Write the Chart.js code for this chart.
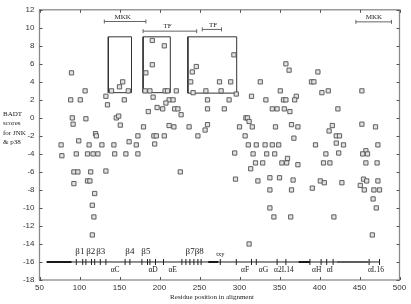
<!DOCTYPE html>
<html>
<head>
<meta charset="utf-8">
<script src="https://cdn.jsdelivr.net/npm/chart.js@4.4.0/dist/chart.umd.min.js"></script>
<style>
  html, body { margin: 0; padding: 0; background: #fff; }
  #wrap { width: 411px; height: 304px; }
</style>
</head>
<body>
<div id="wrap"><canvas id="badtChart" width="411" height="304"></canvas></div>
<script>
// residue position in alignment (x) and BADT score (y) for each square
const residuePos = [
    90, 89, 101, 107, 133, 135, 140, 150, 154, 156, 161,
    191, 206, 191, 183, 182, 188, 207, 210, 221, 192, 212, 217, 208, 197, 204, 219, 223, 186,
    246, 241, 239, 275, 289, 293, 326, 242, 258, 277, 296, 315, 333, 260, 287, 260, 281,
    358, 362, 398, 390, 393, 351, 403, 411, 453, 355, 358, 371, 369, 341, 347, 356, 363, 423,
    91, 92, 108, 146, 149, 151, 120, 121, 173, 99, 162, 77, 112, 128, 143, 171, 78, 96, 110, 117, 123, 144, 158, 173, 93, 98, 114, 133, 93, 110, 113, 119, 116,
    227, 180, 212, 218, 237, 260, 257, 193, 196, 206, 248, 308, 310, 312, 300, 316, 307, 194, 311, 321, 332, 294, 317, 334, 320, 329, 314, 226, 295, 323, 338, 338, 338,
    345, 365, 373, 416, 412, 421, 425, 453, 470, 368, 341, 349, 395, 421, 430, 473, 344, 360, 353, 359, 373, 408, 424, 458, 454, 460, 405, 413, 458, 472, 350, 367, 401, 406, 428, 455, 459, 473, 451, 365, 391, 456, 468, 475, 467, 471,
    118, 116, 312, 343, 364, 418, 466
];
const badtScore = [
    5, 2, 2, 3, 2.4, 1.45, 3, 3.45, 4, 2, 3,
    8.6, 8, 5.9, 5, 3, 3, 3, 3, 3, 2.3, 2, 2, 1.65, 1.15, 1, 1, 1, 0.7,
    5.7, 5.1, 4, 4, 4, 7, 4, 2.8, 3, 3, 2.65, 2.4, 2, 2, 2, 1, 1,
    6, 5.3, 5.1, 4, 4, 3, 2.8, 3, 3, 2, 2, 2.4, 2, 1, 1, 1, 0.7, 1,
    0, -0.7, -0.1, 0, 0.2, -0.8, -1.75, -2, -2, -2.55, -2.65, -3, -3, -3, -3, -3, -4.2, -4, -4, -4, -4, -4, -4, -4, -6, -6, -6, -5.9, -7.3, -7, -7, -8.4, -9.7,
    0.35, -1, -0.85, -1, -1, -0.75, -1.35, -2, -2, -2, -2, 0, 0, -0.4, -1, -1, -2, -2.9, -3, -3, -3, -3.9, -4, -4, -5, -5, -5.65, -6, -6.8, -7, -6.65, -8, -10,
    -1, -0.75, -1, -0.85, -1.45, -2, -2, -0.7, -1, -2.25, -3, -3, -3, -2.8, -3, -3, -4, -4.5, -5, -5, -5.2, -4, -3.9, -3.65, -4, -4, -5, -5, -5, -5, -6.65, -6.9, -7, -7.2, -7.2, -6.8, -7, -7, -7.5, -8, -7.8, -8, -8, -8, -9, -10,
    -11, -13, -14, -11, -11, -11, -13
];

const xTickValues = [50, 100, 150, 200, 250, 300, 350, 400, 450, 500];
const yTickValues = [12, 10, 8, 6, 4, 2, 0, -2, -4, -6, -8, -10, -12, -14, -16, -18];

// boxed regions: [from, to, low, high]
const boxRanges = [[136, 165, 2.8, 9], [179.5, 213.5, 2.8, 9], [235.5, 296.5, 2.75, 9]];

// docking site ranges above the boxes
const rangeLabels = ['MKK', 'TF', 'TF', 'MKK'];
const rangeFrom = [131, 179.5, 253.5, 445.5];
const rangeTo = [183, 246.5, 277.5, 490];
const rangeLevel = [10.7, 9.63, 9.82, 10.66];
const rangeLabelPos = [154, 210, 267, 468];

// secondary structure track along the bottom
const trackLevel = -16;
const trackSpan = [59, 475.5];
const trackBold = [[59, 90], [261, 273.5], [374, 388]];
const trackGrey = [[422, 461]];
const trackTicks = [96, 104, 108, 115, 119, 126, 133, 157, 163, 178, 185, 188, 195, 205,
    228, 233, 238, 243, 248, 252, 276, 296, 315, 321, 347, 358, 388, 402, 409, 417, 462, 475];
const betaLabels = ['β1', 'β2', 'β3', 'β4', 'β5', 'β7β8'];
const betaPos = [100.5, 114, 126.5, 163, 183, 244];
const alphaLabels = ['αC', 'αD', 'αE', 'αF', 'αG', 'α2L14', 'αH', 'αI', 'αL16'];
const alphaPos = [144.5, 192, 216.5, 307, 330, 355.5, 396.5, 413, 470.5];

const serif = '"Liberation Serif", "DejaVu Serif", serif';

const datasets = [{
    data: residuePos.map((x, i) => ({ x: x, y: badtScore[i] })),
    pointStyle: 'rect',
    pointRadius: 3,
    pointBackgroundColor: '#e2e2e2',
    pointBorderColor: '#505050',
    pointBorderWidth: 0.9,
    showLine: false
}];

boxRanges.forEach(([x0, x1, y0, y1]) => {
    datasets.push({
        data: [{ x: x0, y: y0 }, { x: x1, y: y0 }, { x: x1, y: y1 }, { x: x0, y: y1 }, { x: x0, y: y0 }],
        showLine: true, borderColor: '#333', borderWidth: 1, pointRadius: 0
    });
});

rangeLabels.forEach((lbl, i) => {
    datasets.push({
        data: [{ x: rangeFrom[i], y: rangeLevel[i] }, { x: rangeTo[i], y: rangeLevel[i] }],
        showLine: true, borderColor: '#666', borderWidth: 1,
        pointStyle: 'line', pointRotation: 90, pointRadius: 2,
        pointBorderColor: '#666', pointBorderWidth: 1
    });
});

datasets.push({
    data: trackSpan.map(x => ({ x: x, y: trackLevel })),
    showLine: true, borderColor: '#222', borderWidth: 1, pointRadius: 0
});
trackBold.forEach(seg => datasets.push({
    data: seg.map(x => ({ x: x, y: trackLevel })),
    showLine: true, borderColor: '#111', borderWidth: 2, pointRadius: 0
}));
trackGrey.forEach(seg => datasets.push({
    data: seg.map(x => ({ x: x, y: trackLevel })),
    showLine: true, borderColor: '#9a9a9a', borderWidth: 2, pointRadius: 0
}));
datasets.push({
    data: trackTicks.map(x => ({ x: x, y: trackLevel })),
    showLine: false, pointStyle: 'line', pointRotation: 90, pointRadius: 3,
    pointBorderColor: '#222', pointBorderWidth: 1
});

// frame with inward ticks, like the original plot
const framePlugin = {
    id: 'frame',
    afterDraw(chart) {
        const ctx = chart.ctx;
        const a = chart.chartArea;
        const xs = chart.scales.x, ys = chart.scales.y;
        ctx.save();
        ctx.strokeStyle = '#8a8a8a';
        ctx.lineWidth = 1.3;
        ctx.strokeRect(a.left, a.top, a.right - a.left, a.bottom - a.top);
        ctx.strokeStyle = '#555';
        ctx.lineWidth = 1;
        ctx.beginPath();
        xTickValues.forEach(v => {
            const px = Math.round(xs.getPixelForValue(v)) + 0.5;
            ctx.moveTo(px, a.bottom); ctx.lineTo(px, a.bottom - 3);
            ctx.moveTo(px, a.top); ctx.lineTo(px, a.top + 3);
        });
        yTickValues.forEach(v => {
            const py = Math.round(ys.getPixelForValue(v)) + 0.5;
            ctx.moveTo(a.left, py); ctx.lineTo(a.left + 3, py);
            ctx.moveTo(a.right, py); ctx.lineTo(a.right - 3, py);
        });
        ctx.stroke();
        ctx.restore();
    }
};

const labelPlugin = {
    id: 'labels',
    afterDatasetsDraw(chart) {
        const ctx = chart.ctx;
        const xs = chart.scales.x, ys = chart.scales.y;
        const trackY = ys.getPixelForValue(trackLevel);
        ctx.save();
        ctx.fillStyle = '#222';
        ctx.textAlign = 'center';

        ctx.font = '7px ' + serif;
        ctx.textBaseline = 'bottom';
        rangeLabels.forEach((lbl, i) => {
            ctx.fillText(lbl, xs.getPixelForValue(rangeLabelPos[i]), ys.getPixelForValue(rangeLevel[i]) - 1);
        });

        ctx.textBaseline = 'middle';
        ctx.font = '9px ' + serif;
        betaLabels.forEach((lbl, i) => ctx.fillText(lbl, xs.getPixelForValue(betaPos[i]), trackY - 10));
        ctx.font = '6.5px ' + serif;
        ctx.fillText('txy', xs.getPixelForValue(276), trackY - 7.5);
        ctx.font = '7.5px ' + serif;
        alphaLabels.forEach((lbl, i) => ctx.fillText(lbl, xs.getPixelForValue(alphaPos[i]), trackY + 8.5));

        // axis titles
        ctx.font = '7px ' + serif;
        ctx.fillText('Residue position in alignment', 212, 297.5);
        ctx.textAlign = 'left';
        ['BADT', 'scores', 'for JNK', '& p38'].forEach((line, i) => ctx.fillText(line, 3, 114 + i * 9.5));
        ctx.restore();
    }
};

Chart.defaults.font.family = '"Liberation Sans", Arial, sans-serif';
Chart.defaults.font.size = 8;
Chart.defaults.color = '#333';

new Chart(document.getElementById('badtChart'), {
    type: 'scatter',
    data: { datasets: datasets },
    options: {
        responsive: false,
        animation: false,
        events: [],
        layout: { padding: { top: 5, right: 11.5, left: 0, bottom: 0 } },
        plugins: { legend: { display: false }, tooltip: { enabled: false } },
        scales: {
            x: {
                type: 'linear', min: 50, max: 500,
                grid: { display: false, drawTicks: false },
                border: { display: false },
                afterBuildTicks: s => { s.ticks = xTickValues.map(v => ({ value: v })); },
                ticks: { padding: 3, maxRotation: 0, autoSkip: false },
                afterFit: s => { s.height = 24; }
            },
            y: {
                type: 'linear', min: -18, max: 12,
                grid: { display: false, drawTicks: false },
                border: { display: false },
                afterBuildTicks: s => { s.ticks = yTickValues.map(v => ({ value: v })); },
                ticks: { padding: 5, autoSkip: false },
                afterFit: s => { s.width = 39.5; }
            }
        }
    },
    plugins: [framePlugin, labelPlugin]
});
</script>
</body>
</html>
